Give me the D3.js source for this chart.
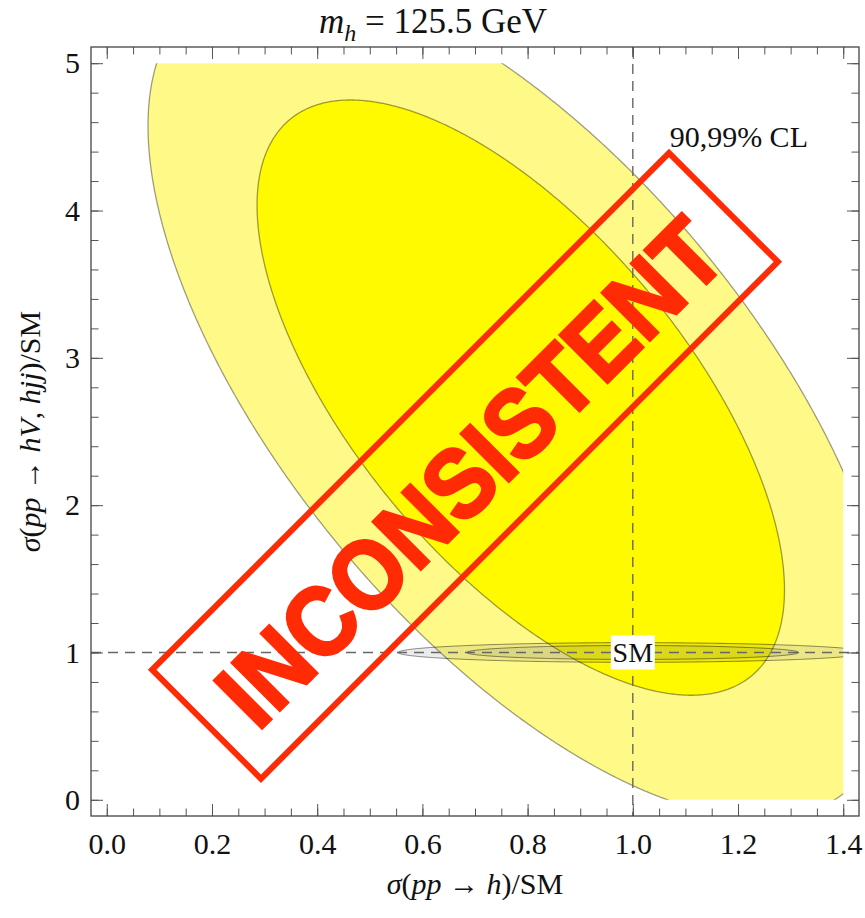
<!DOCTYPE html>
<html>
  <head>
    <meta charset="utf-8">
    <title>Higgs signal strengths</title>
    <script src="https://d3js.org/d3.v7.min.js"></script>
    <style>
      body { margin: 0; background: #fff; }
      svg text { font-family: "Liberation Serif", "Times New Roman", serif; fill: #111; }
      .axis path.domain { display: none; }
      .axis line { stroke: #555; stroke-width: 1; }
      .axis text { font-size: 30px; font-family: "Liberation Serif", serif; fill: #111; }
    </style>
  </head>
  <body>
    <svg id="chart" width="865" height="918"></svg>
    <script>
      // tick values and labels
      const xTicks = [0, 0.2, 0.4, 0.6, 0.8, 1.0, 1.2, 1.4];
      const xTickLabels = ["0.0", "0.2", "0.4", "0.6", "0.8", "1.0", "1.2", "1.4"];
      const xMinorTicks = d3.range(0, 1.401, 0.05);
      const yTicks = [0, 1, 2, 3, 4, 5];
      const yTickLabels = ["0", "1", "2", "3", "4", "5"];
      const yMinorTicks = d3.range(0, 5.01, 0.2);
      // gaussian fits: [ggF, VBF+VH]
      const fitNames = ["data", "SM"];
      const fitMean = [[0.787, 2.73], [1.0, 1.0]];
      const fitSigma = [[0.2335, 0.941], [0.147, 0.022]];
      const fitRho = [-0.646, 0];
      // delta chi2 for 99% and 90% CL, two parameters
      const clLevels = [9.21, 4.61];
      const smPoint = [1, 1];
      const plotRange = { x: [0, 1.4], y: [0, 5] };

      const svg = d3.select("#chart");
      const x = d3.scaleLinear().domain([-0.03, 1.43]).range([91, 859]);
      const y = d3.scaleLinear().domain([-0.11, 5.11]).range([816, 47]);

      svg.append("defs").append("clipPath").attr("id", "plotClip")
        .append("rect")
          .attr("x", x(plotRange.x[0]))
          .attr("y", y(plotRange.y[1]))
          .attr("width", x(plotRange.x[1]) - x(plotRange.x[0]))
          .attr("height", y(plotRange.y[0]) - y(plotRange.y[1]));

      // chi2 grid (a bit larger than the plot range, clipped afterwards)
      const gridX = [-0.05, 1.6], gridY = [-0.3, 5.8];
      const nx = 830, ny = 1220;
      const stepX = (gridX[1] - gridX[0]) / nx, stepY = (gridY[1] - gridY[0]) / ny;
      function chi2Grid(i) {
        const mx = fitMean[i][0], my = fitMean[i][1];
        const sx = fitSigma[i][0], sy = fitSigma[i][1], r = fitRho[i];
        const values = new Float64Array(nx * ny);
        for (let j = 0; j < ny; j++) {
          const v = (gridY[1] - (j + 0.5) * stepY - my) / sy;
          for (let k = 0; k < nx; k++) {
            const u = (gridX[0] + (k + 0.5) * stepX - mx) / sx;
            values[j * nx + k] = -(u * u - 2 * r * u * v + v * v) / (1 - r * r);
          }
        }
        return values;
      }
      const gridPath = d3.geoPath(d3.geoTransform({
        point: function(gx, gy) {
          this.stream.point(x(gridX[0] + gx * stepX), y(gridY[1] - gy * stepY));
        }
      }));
      const contours = d3.contours().size([nx, ny]).thresholds(clLevels.map(function(c) { return -c; }));

      const plot = svg.append("g").attr("clip-path", "url(#plotClip)");
      // measured region: 99% light, 90% dark
      const dataColours = ["#fffa88", "#fffa00"];
      plot.append("g").selectAll("path")
        .data(contours(chi2Grid(0)))
        .enter().append("path")
          .attr("d", gridPath)
          .attr("fill", function(d, i) { return dataColours[i]; })
          .attr("stroke", "rgba(0,0,0,0.38)")
          .attr("stroke-width", 1.3);
      // SM projection
      plot.append("g").selectAll("path")
        .data(contours(chi2Grid(1)))
        .enter().append("path")
          .attr("d", gridPath)
          .attr("fill", "rgba(110,110,110,0.13)")
          .attr("stroke", "rgba(0,0,0,0.45)")
          .attr("stroke-width", 1);

      // frame edges
      const frameLeft = x.range()[0], frameRight = x.range()[1];
      const frameTop = y.range()[1], frameBottom = y.range()[0];

      // SM guide lines
      svg.append("line")
        .attr("x1", x(smPoint[0])).attr("x2", x(smPoint[0]))
        .attr("y1", frameTop).attr("y2", frameBottom)
        .attr("stroke", "#666").attr("stroke-width", 1.4).attr("stroke-dasharray", "10,7");
      svg.append("line")
        .attr("x1", frameLeft).attr("x2", frameRight)
        .attr("y1", y(smPoint[1])).attr("y2", y(smPoint[1]))
        .attr("stroke", "#666").attr("stroke-width", 1.4).attr("stroke-dasharray", "10,7");

      // axes: ticks on all four sides
      svg.append("g").attr("class", "axis").attr("transform", "translate(0," + frameBottom + ")")
        .call(d3.axisBottom(x).tickValues(xMinorTicks).tickSize(-7.5).tickFormat(""));
      svg.append("g").attr("class", "axis").attr("transform", "translate(0," + frameBottom + ")")
        .call(d3.axisBottom(x).tickValues(xTicks).tickSize(-12).tickPadding(17)
          .tickFormat(function(d, i) { return xTickLabels[i]; }));
      svg.append("g").attr("class", "axis").attr("transform", "translate(0," + frameTop + ")")
        .call(d3.axisTop(x).tickValues(xMinorTicks).tickSize(-7.5).tickFormat(""));
      svg.append("g").attr("class", "axis").attr("transform", "translate(0," + frameTop + ")")
        .call(d3.axisTop(x).tickValues(xTicks).tickSize(-12).tickFormat(""));
      svg.append("g").attr("class", "axis").attr("transform", "translate(" + frameLeft + ",0)")
        .call(d3.axisLeft(y).tickValues(yMinorTicks).tickSize(-7.5).tickFormat(""));
      svg.append("g").attr("class", "axis").attr("transform", "translate(" + frameLeft + ",0)")
        .call(d3.axisLeft(y).tickValues(yTicks).tickSize(-12).tickPadding(11)
          .tickFormat(function(d, i) { return yTickLabels[i]; }));
      svg.append("g").attr("class", "axis").attr("transform", "translate(" + frameRight + ",0)")
        .call(d3.axisRight(y).tickValues(yMinorTicks).tickSize(-7.5).tickFormat(""));
      svg.append("g").attr("class", "axis").attr("transform", "translate(" + frameRight + ",0)")
        .call(d3.axisRight(y).tickValues(yTicks).tickSize(-12).tickFormat(""));
      svg.append("rect")
        .attr("x", frameLeft).attr("y", frameTop)
        .attr("width", frameRight - frameLeft).attr("height", frameBottom - frameTop)
        .attr("fill", "none").attr("stroke", "#444").attr("stroke-width", 1.3);

      // title (centred on the whole picture) and axis labels
      const title = svg.append("text")
        .attr("x", 433).attr("y", 33)
        .attr("text-anchor", "middle").style("font-size", "35px");
      title.append("tspan").style("font-style", "italic").text("m");
      title.append("tspan").style("font-style", "italic").style("font-size", "24px").attr("dy", 8).text("h");
      title.append("tspan").attr("dy", -8).text(" = 125.5 GeV");

      const xLabel = svg.append("text")
        .attr("x", (frameLeft + frameRight) / 2).attr("y", 894)
        .attr("text-anchor", "middle").style("font-size", "30px");
      xLabel.append("tspan").style("font-style", "italic").text("σ");
      xLabel.append("tspan").text("(");
      xLabel.append("tspan").style("font-style", "italic").text("pp");
      xLabel.append("tspan").text("  →  ");
      xLabel.append("tspan").style("font-style", "italic").text("h");
      xLabel.append("tspan").text(")/SM");

      const yLabel = svg.append("text")
        .attr("transform", "translate(40," + (frameTop + frameBottom) / 2 + ") rotate(-90)")
        .attr("text-anchor", "middle").style("font-size", "30px");
      yLabel.append("tspan").style("font-style", "italic").text("σ");
      yLabel.append("tspan").text("(");
      yLabel.append("tspan").style("font-style", "italic").text("pp");
      yLabel.append("tspan").text("  →  ");
      yLabel.append("tspan").style("font-style", "italic").text("hV");
      yLabel.append("tspan").text(", ");
      yLabel.append("tspan").style("font-style", "italic").text("hjj");
      yLabel.append("tspan").text(")/SM");

      // annotations
      svg.append("text")
        .attr("x", x(1.07)).attr("y", y(4.43))
        .style("font-size", "30px")
        .text("90,99% CL");
      svg.append("rect")
        .attr("x", x(smPoint[0]) - 22).attr("y", y(smPoint[1]) - 17)
        .attr("width", 44).attr("height", 34)
        .attr("fill", "#fff");
      svg.append("text")
        .attr("x", x(smPoint[0])).attr("y", y(smPoint[1]) + 10)
        .attr("text-anchor", "middle").style("font-size", "28px")
        .text("SM");

      // stamp
      const stampCenter = [0.681, 2.267];
      const stamp = svg.append("g")
        .attr("transform", "translate(" + x(stampCenter[0]) + "," + y(stampCenter[1]) + ") rotate(-45)");
      stamp.append("rect")
        .attr("x", -365.5).attr("y", -77).attr("width", 731).attr("height", 154)
        .attr("fill", "none").attr("stroke", "#ff2b05").attr("stroke-width", 6);
      stamp.append("text")
        .attr("x", -1).attr("y", 42)
        .attr("text-anchor", "middle")
        .attr("textLength", 668).attr("lengthAdjust", "spacingAndGlyphs")
        .style("font-family", "'Liberation Sans', Arial, sans-serif")
        .style("font-weight", "bold").style("font-size", "98px")
        .style("fill", "#ff2b05").style("stroke", "#ff2b05").style("stroke-width", 3)
        .text("INCONSISTENT");
    </script>
  </body>
</html>
